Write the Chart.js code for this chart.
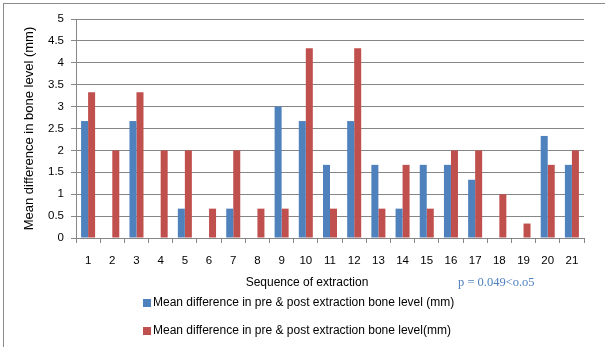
<!DOCTYPE html>
<html>
<head>
<meta charset="utf-8">
<script src="https://cdn.jsdelivr.net/npm/chart.js@4/dist/chart.umd.min.js"></script>
<style>
  html, body { margin: 0; padding: 0; background: #fff; overflow: hidden; }
  #wrap { position: relative; width: 605px; height: 347px; overflow: hidden; }
  #frame { position: absolute; left: 3px; top: 3px; width: 700px; height: 400px;
           border-top: 1px solid #8a8a8a; border-left: 1px solid #8a8a8a; }
  canvas { position: absolute; left: 0; top: 0; }
</style>
</head>
<body>
<div id="wrap">
  <div id="frame"></div>
  <canvas id="chart" width="605" height="347"></canvas>
</div>
<script>
  const categories = ["1","2","3","4","5","6","7","8","9","10","11","12","13","14","15","16","17","18","19","20","21"];
  const seriesLabels = [
    "Mean difference in pre & post extraction bone level (mm)",
    "Mean difference in pre & post extraction bone level(mm)"
  ];
  const blueValues = [2.67, 0, 2.67, 0, 0.67, 0, 0.67, 0, 3, 2.67, 1.67, 2.67, 1.67, 0.67, 1.67, 1.67, 1.33, 0, 0, 2.33, 1.67];
  const redValues = [3.33, 2, 3.33, 2, 2, 0.67, 2, 0.67, 0.67, 4.33, 0.67, 4.33, 0.67, 1.67, 0.67, 2, 2, 1, 0.33, 1.67, 2];
  const yTicks = [0, 0.5, 1, 1.5, 2, 2.5, 3, 3.5, 4, 4.5, 5];
  const xTitle = "Sequence of extraction";
  const yTitle = "Mean difference in bone level (mm)";
  const pNote = "p = 0.049<o.o5";

  const gridColor = "#868686";
  const sansFont = "'Liberation Sans', Arial, sans-serif";

  // legend, x title and p-value note drawn at fixed spots like the original
  const extrasPlugin = {
    id: "extras",
    afterDraw(chart) {
      const ctx = chart.ctx;
      ctx.save();
      ctx.fillStyle = "#000";
      ctx.font = "12px " + sansFont;
      ctx.textAlign = "center";
      ctx.textBaseline = "middle";
      ctx.fillText(xTitle, 307, 283);

      ctx.fillStyle = "#4f81bd";
      ctx.font = "12.5px 'Liberation Serif', 'Times New Roman', serif";
      ctx.textAlign = "left";
      ctx.fillText(pNote, 458, 283);

      ctx.font = "12px " + sansFont;
      const rows = [303, 331];
      chart.data.datasets.forEach((ds, i) => {
        ctx.fillStyle = ds.backgroundColor;
        ctx.fillRect(143, rows[i] - 4, 8, 8);
        ctx.fillStyle = "#000";
        ctx.fillText(ds.label, 153, rows[i]);
      });
      ctx.restore();
    }
  };

  new Chart(document.getElementById("chart"), {
    type: "bar",
    data: {
      labels: categories,
      datasets: [
        { label: seriesLabels[0], data: blueValues, backgroundColor: "#4f81bd" },
        { label: seriesLabels[1], data: redValues, backgroundColor: "#c0504d" }
      ]
    },
    options: {
      responsive: false,
      animation: false,
      layout: { padding: { top: 19, right: 21, bottom: 49, left: 0 } },
      datasets: { bar: { categoryPercentage: 0.58, barPercentage: 1 } },
      plugins: {
        legend: { display: false },
        tooltip: { enabled: false }
      },
      scales: {
        x: {
          grid: { offset: true, drawOnChartArea: false, drawTicks: true, tickLength: 5, color: gridColor },
          border: { color: gridColor },
          ticks: { color: "#000", font: { family: sansFont, size: 11.5 }, padding: 11, maxRotation: 0, autoSkip: false },
          afterFit: scale => { scale.height = 60; }
        },
        y: {
          min: 0,
          max: 5,
          afterBuildTicks: scale => { scale.ticks = yTicks.map(v => ({ value: v })); },
          grid: { color: gridColor, tickLength: 5 },
          border: { color: gridColor },
          ticks: {
            color: "#000",
            font: { family: sansFont, size: 11.5 },
            padding: 7,
            callback: value => String(value)
          },
          title: {
            display: true,
            text: yTitle,
            color: "#000",
            font: { family: sansFont, size: 13 },
            padding: { top: 22, bottom: 0 }
          },
          afterFit: scale => { scale.width = 76; }
        }
      }
    },
    plugins: [extrasPlugin]
  });
</script>
</body>
</html>
